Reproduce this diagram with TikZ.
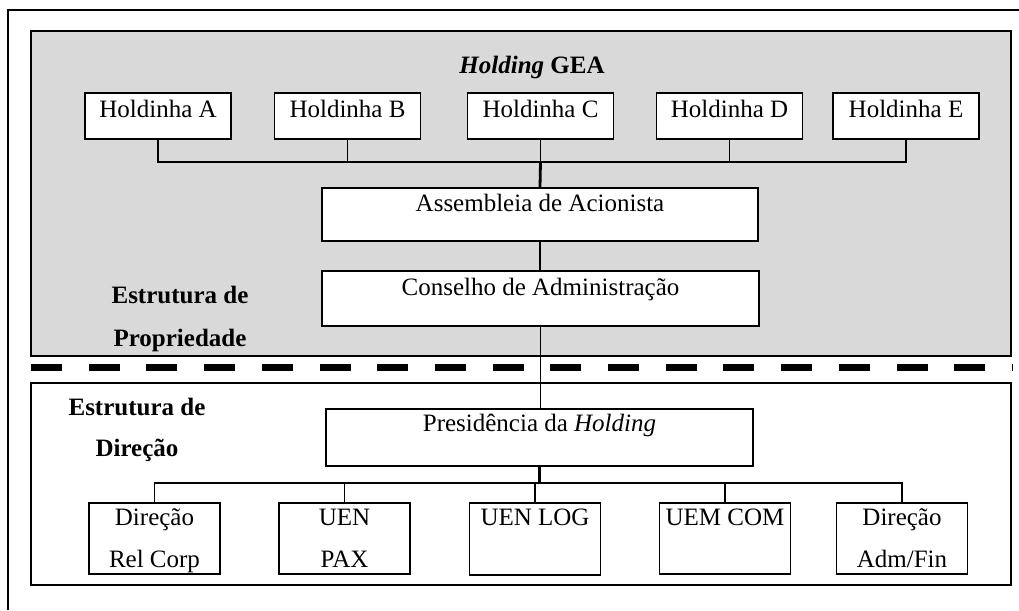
\documentclass[tikz,border=0pt]{standalone}
\usepackage{fontspec}
\setmainfont{Liberation Serif}
\usetikzlibrary{positioning}
\definecolor{panelgray}{RGB}{217,217,217}

\tikzset{
  unitbox/.style={draw, line width=1.8pt, fill=white, inner xsep=0pt, inner ysep=0pt,
    anchor=north, font=\fontsize{25}{42}\selectfont},
  holdbox/.style={unitbox, minimum width=146pt, text height=25pt, text depth=21pt},
  govbox/.style={unitbox, minimum width=436pt},
  dirbox/.style={unitbox, minimum width=131pt, align=center, text height=65pt, text depth=6pt},
  link/.style={line width=1.8pt},
  trunk/.style={line width=2.8pt},
  sidelabel/.style={font=\fontsize{25}{43}\selectfont\bfseries, align=center, anchor=base}
}

\begin{document}
\begin{tikzpicture}[x=1pt, y=-1pt]
        \useasboundingbox (0,0) rectangle (1019,610);
        % frame and the two panels
        \draw[line width=1.8pt] (8,610) -- (8,10) -- (1019,10);
        \draw[line width=1.8pt, fill=panelgray] (31,31) rectangle (1011,356);
        \draw[line width=1.8pt] (31,383) rectangle (1011,585);
        \draw[line width=7pt, dash pattern=on 31pt off 26.7pt] (31,367) -- (1012,367);

        \node[font=\fontsize{25}{29}\selectfont, anchor=base] (title) at (532,74)
            {\textbf{\textit{Holding} GEA}};

        % holdinhas
        \foreach \n/\x/\t in
        {hA/158/A,
         hB/347.5/B,
         hC/540.5/C,
         hD/729.5/D,
         hE/906/E
        }
        {
            \node[holdbox] (\n) at (\x,92) {Holdinha \t};
        };

        \node[govbox, text height=24pt, text depth=29pt] (asm) at (540,187) {Assembleia de Acionista};
        \node[govbox, minimum width=437pt, text height=25pt, text depth=30pt] (cons) at (540.5,270) {Conselho de Administração};
        \node[govbox, minimum width=427pt, text height=23pt, text depth=34pt] (pres) at (539.5,408) {Presidência da \textit{Holding}};

        \node[sidelabel] (propr) at (180,346) {Estrutura de\\Propriedade};
        \node[sidelabel, font=\fontsize{25}{41}\selectfont\bfseries] (direc) at (137,456) {Estrutura de\\Direção};

        % direcoes
        \node[dirbox] (dRel) at (154.5,502) {Direção\\Rel Corp};
        \node[dirbox] (dPax) at (344.5,502) {UEN\\PAX};
        \node[dirbox, text height=23pt, text depth=49pt] (dLog) at (535,502) {UEN LOG};
        \node[dirbox, text height=23pt, text depth=48pt] (dCom) at (725,502) {UEM COM};
        \node[dirbox] (dAdm) at (902,502) {Direção\\Adm/Fin};

        % connectors
        \coordinate (busTop) at (540.5,162);
        \coordinate (busLow) at (540,483);
        \draw[link] (hA.south) |- (hE.south |- busTop) -- (hE.south);
        \foreach \n in {hB,hC,hD}
            \draw[link] (\n.south) -- (\n.south |- busTop);
        \draw[trunk] (busTop) -- (asm.north);
        \draw[link] (asm.south) -- (asm.south |- cons.north);
        \draw[link] (cons.south) -- (cons.south |- pres.north);
        \draw[trunk] (pres.south) -- (pres.south |- busLow);
        \draw[link] (dRel.north) |- (dAdm.north |- busLow) -- (dAdm.north);
        \foreach \n in {dPax,dLog,dCom}
            \draw[link] (\n.north) -- (\n.north |- busLow);
\end{tikzpicture}
\end{document}
